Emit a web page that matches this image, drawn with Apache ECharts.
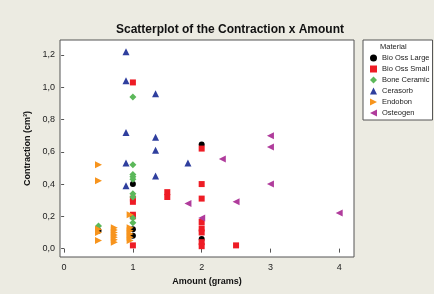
<!DOCTYPE html>
<html>
<head>
<meta charset="utf-8">
<script src="https://cdn.jsdelivr.net/npm/echarts@6/dist/echarts.min.js"></script>
<style>
  html, body { margin: 0; padding: 0; background: #ecebe2; }
  #scatter { width: 434px; height: 294px; }
</style>
</head>
<body>
<div id="scatter"></div>
<script>
// data: [amount (g), contraction (cm3)]
var materials = ['Bio Oss Large', 'Bio Oss Small', 'Bone Ceramic', 'Cerasorb', 'Endobon', 'Osteogen'];

var bioOssLarge = [[0.5, 0.11], [1, 0.40], [1, 0.12], [1, 0.08], [2, 0.645], [2, 0.06]];
var bioOssSmall = [[1, 1.03], [1, 0.31], [1, 0.29], [1, 0.21], [1, 0.20], [1, 0.02],
    [1.5, 0.35], [1.5, 0.32], [2, 0.62], [2, 0.40], [2, 0.31], [2, 0.165], [2, 0.125],
    [2, 0.10], [2, 0.04], [2, 0.015], [2.5, 0.02]];
var boneCeramic = [[0.5, 0.14], [1, 0.94], [1, 0.52], [1, 0.46], [1, 0.445], [1, 0.43],
    [1, 0.34], [1, 0.32], [1, 0.19], [1, 0.16]];
var cerasorb = [[0.9, 1.22], [0.9, 1.04], [0.9, 0.72], [0.9, 0.53], [0.9, 0.39],
    [1.33, 0.96], [1.33, 0.69], [1.33, 0.61], [1.33, 0.45], [1.8, 0.53]];
var endobon = [[0.5, 0.52], [0.5, 0.42], [0.5, 0.12], [0.5, 0.10], [0.5, 0.05],
    [0.73, 0.13], [0.73, 0.115], [0.73, 0.10], [0.73, 0.085], [0.73, 0.07], [0.73, 0.055], [0.73, 0.04],
    [0.96, 0.21], [0.96, 0.13], [0.96, 0.11], [0.96, 0.09], [0.96, 0.07], [0.96, 0.05]];
var osteogen = [[1.8, 0.28], [2, 0.19], [2.3, 0.555], [2.5, 0.29], [3, 0.70], [3, 0.63], [3, 0.40], [4, 0.22]];

var xTicks = [0, 1, 2, 3, 4];
var yTicks = [0, 0.2, 0.4, 0.6, 0.8, 1.0, 1.2];

var seriesData = [bioOssLarge, bioOssSmall, boneCeramic, cerasorb, endobon, osteogen];
var colors = ['#000000', '#ee1c25', '#5cb85a', '#2f3f9e', '#f7941d', '#b03c9c'];
var symbols = ['circle', 'rect', 'diamond', 'triangle',
    'path://M0,0 L10,5 L0,10 Z', 'path://M10,0 L0,5 L10,10 Z'];
var sizes = [6, 6, 7, 7, 7, 7];

var myChart = echarts.init(document.getElementById('scatter'));

var series = [];
for (var i = 0; i < materials.length; i++) {
    series.push({
        name: materials[i],
        type: 'scatter',
        symbol: symbols[i],
        symbolSize: sizes[i],
        itemStyle: { color: colors[i], opacity: 1 },
        data: seriesData[i]
    });
}

var option = {
    backgroundColor: '#ecebe2',
    animation: false,
    title: [{
        text: 'Scatterplot of the Contraction x Amount',
        left: 111,
        top: 19,
        textStyle: { fontFamily: 'Liberation Sans', fontSize: 12, fontWeight: 'bold', color: '#111' }
    }, {
        text: 'Material',
        left: 375,
        top: 38,
        textStyle: { fontFamily: 'Liberation Sans', fontSize: 7.5, fontWeight: 'normal', color: '#222' }
    }],
    legend: {
        orient: 'vertical',
        left: 363,
        top: 40,
        padding: [13, 3, 2, 7],
        itemWidth: 7,
        itemHeight: 7,
        itemGap: 1,
        itemTextGap: 4,
        backgroundColor: '#ffffff',
        borderColor: '#555',
        borderWidth: 1,
        borderRadius: 0,
        textStyle: { fontFamily: 'Liberation Sans', fontSize: 7.5, lineHeight: 10, color: '#222' },
        data: materials
    },
    grid: {
        left: 60,
        top: 40,
        right: 80,
        bottom: 37,
        show: true,
        backgroundColor: '#ffffff',
        borderColor: '#555',
        borderWidth: 1
    },
    xAxis: {
        type: 'value',
        min: -0.06,
        max: 4.215,
        name: 'Amount (grams)',
        nameLocation: 'middle',
        nameGap: 19,
        nameTextStyle: { fontFamily: 'Liberation Sans', fontSize: 9, fontWeight: 'bold', color: '#111' },
        axisLine: { show: false },
        splitLine: { show: false },
        axisTick: { show: true, length: 4, lineStyle: { color: '#555' }, customValues: xTicks },
        axisLabel: {
            customValues: xTicks,
            fontFamily: 'Liberation Sans', fontSize: 9, color: '#222', margin: 6,
            formatter: function (v) { return String(v); }
        }
    },
    yAxis: {
        type: 'value',
        min: -0.052,
        max: 1.293,
        name: 'Contraction (cm\u00b3)',
        nameLocation: 'middle',
        nameGap: 27,
        nameTextStyle: { fontFamily: 'Liberation Sans', fontSize: 9, fontWeight: 'bold', color: '#111' },
        axisLine: { show: false },
        splitLine: { show: false },
        axisTick: { show: true, length: 3, lineStyle: { color: '#555' }, customValues: yTicks },
        axisLabel: {
            customValues: yTicks,
            fontFamily: 'Liberation Sans', fontSize: 9, color: '#222', margin: 5,
            formatter: function (v) { return v.toFixed(1).replace('.', ','); }
        }
    },
    series: series
};

myChart.setOption(option);
</script>
</body>
</html>
